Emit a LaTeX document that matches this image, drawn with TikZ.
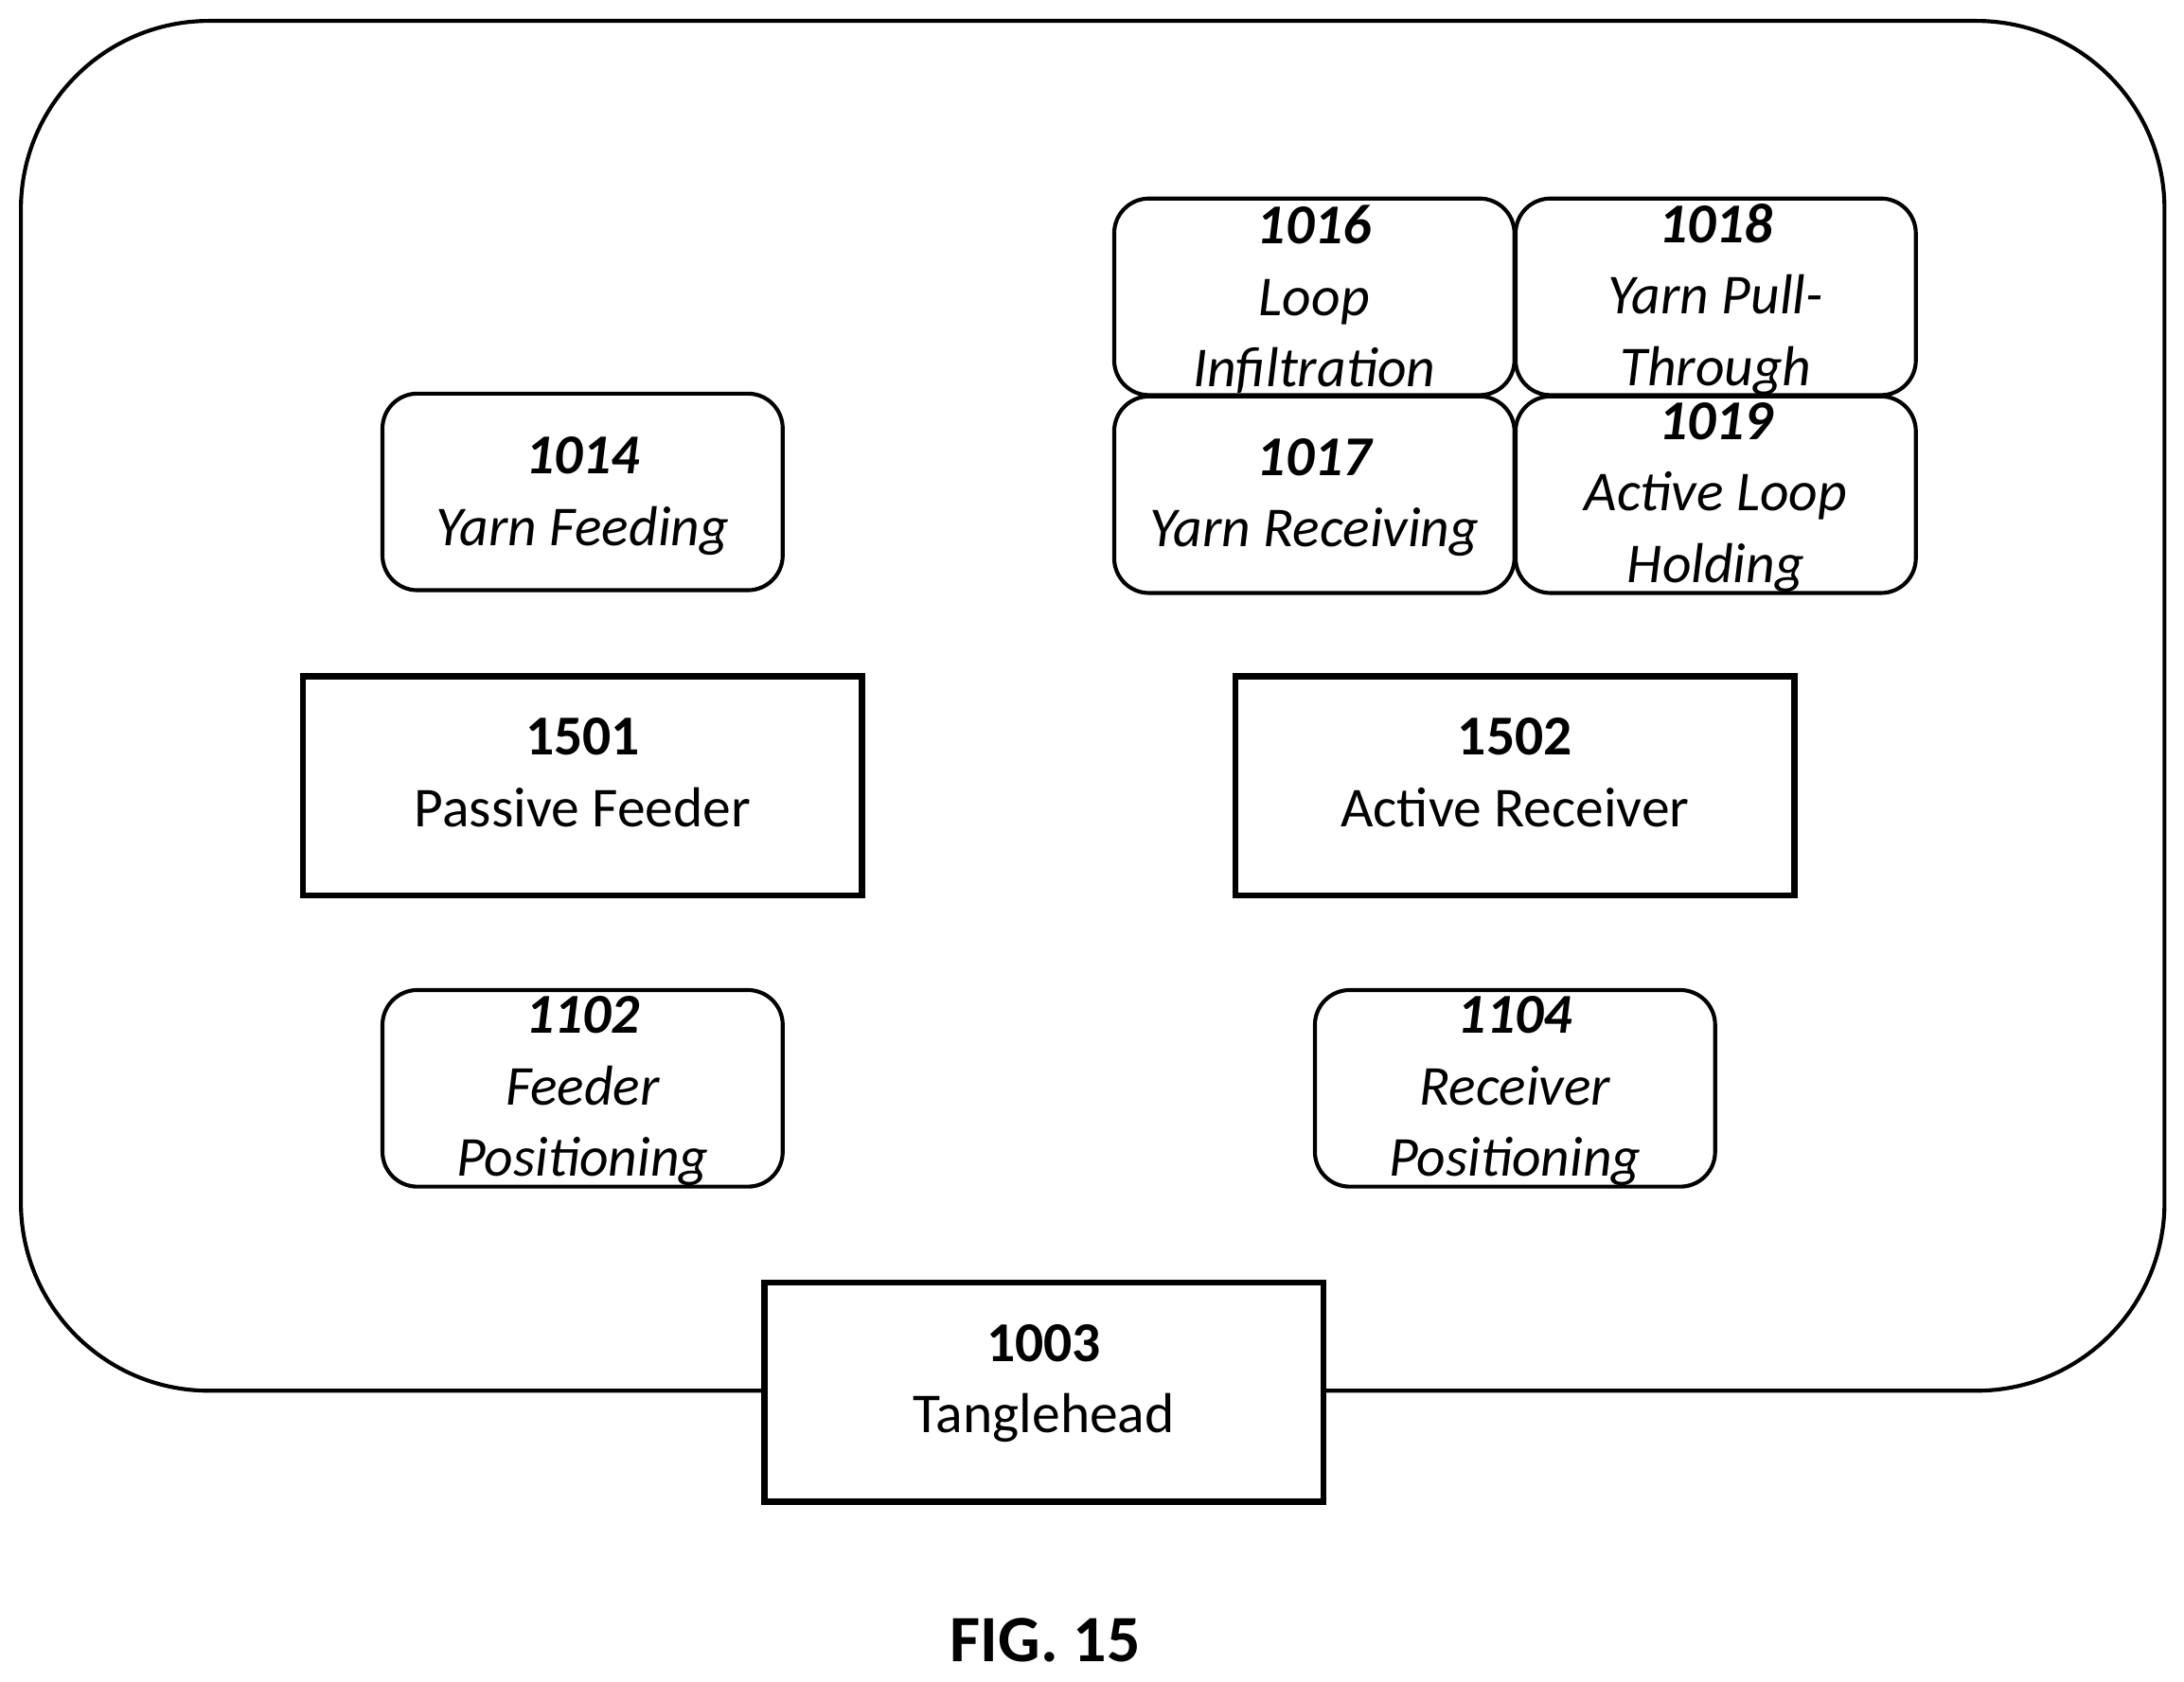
\documentclass[tikz,border=0pt]{standalone}
\usepackage{fontspec}
\setmainfont{Carlito}
\begin{document}
\begin{tikzpicture}[x=0.01cm,y=-0.01cm,
  rbox/.style={draw,line width=0.8pt,rounded corners=0.25cm,minimum width=2.87cm,minimum height=1.41cm,inner sep=0pt},
  sbox/.style={draw,line width=1.3pt,fill=white,minimum width=4.01cm,minimum height=1.57cm,inner sep=0pt},
  lbl/.style={font=\fontsize{11.5}{14.6}\selectfont\itshape,align=center},
  slbl/.style={font=\fontsize{11.5}{14.6}\selectfont,align=center}]
\useasboundingbox (0,0) rectangle (1567,1207);
\draw[line width=0.8pt,rounded corners=1.35cm] (15,15) rectangle (1553,998);
\node[rbox] (b1014) at (418,353) {};
\node[lbl] at (418,356) {\textbf{1014}\\Yarn Feeding};
\node[rbox] (b1016) at (943,213) {};
\node[lbl] at (943,215) {\textbf{1016}\\Loop\\Infiltration};
\node[rbox] (b1018) at (1231,213) {};
\node[lbl] at (1231,215) {\textbf{1018}\\Yarn Pull-\\Through};
\node[rbox] (b1017) at (943,355) {};
\node[lbl] at (943,357) {\textbf{1017}\\Yarn Receiving};
\node[rbox] (b1019) at (1231,355) {};
\node[lbl] at (1231,357) {\textbf{1019}\\Active Loop\\Holding};
\node[rbox] (b1102) at (418,781) {};
\node[lbl] at (418,783) {\textbf{1102}\\Feeder\\Positioning};
\node[rbox] (b1104) at (1087,781) {};
\node[lbl] at (1087,783) {\textbf{1104}\\Receiver\\Positioning};
\node[sbox] (b1501) at (418,564) {};
\node[slbl,anchor=north] at (418,503) {\textbf{1501}\\Passive Feeder};
\node[sbox] (b1502) at (1087,564) {};
\node[slbl,anchor=north] at (1087,503) {\textbf{1502}\\Active Receiver};
\node[sbox] (b1003) at (749,999) {};
\node[slbl,anchor=north] at (749,938) {\textbf{1003}\\Tanglehead};
\node[font=\fontsize{13.5}{16}\selectfont\bfseries] (fig) at (750,1177) {FIG. 15};
\end{tikzpicture}
\end{document}
